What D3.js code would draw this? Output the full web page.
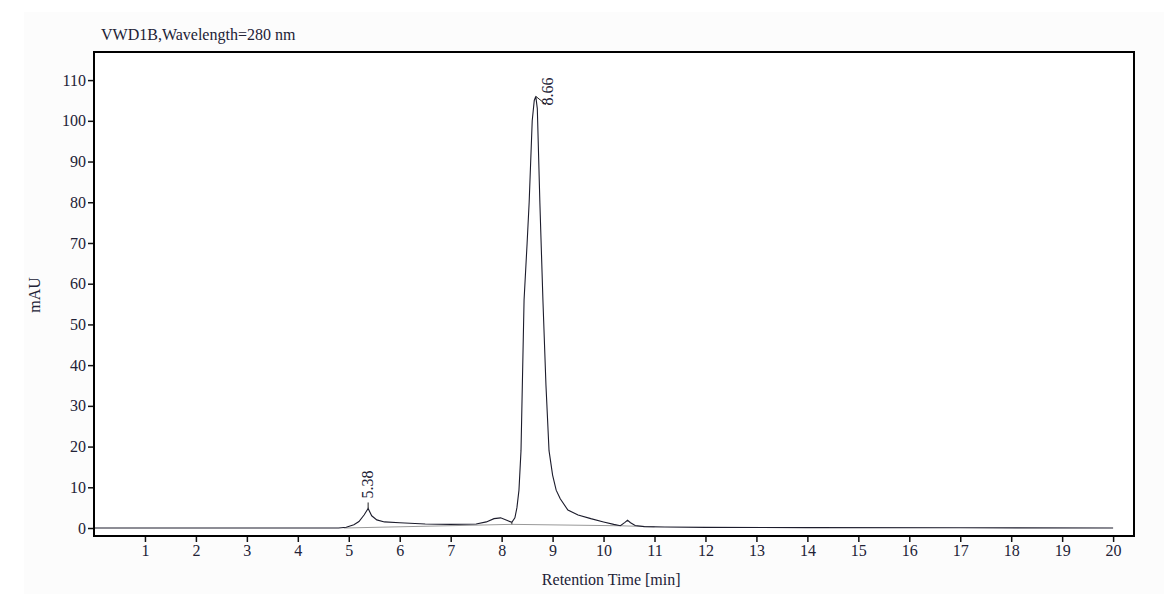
<!DOCTYPE html>
<html><head><meta charset="utf-8">
<script src="https://cdn.jsdelivr.net/npm/d3@7"></script>
<style>
body{margin:0;background:#fff}
text{font-family:"Liberation Serif","DejaVu Serif",serif;fill:#222236}
</style></head>
<body>
<svg id="chart" width="1172" height="608"></svg>
<script>
// trace: retention time (min) and signal (mAU)
const times = [0, 4.8, 4.95, 5.1, 5.2, 5.3, 5.38, 5.45, 5.55, 5.7, 6.0, 6.5, 7.0, 7.5, 7.7, 7.85, 7.98, 8.1, 8.2, 8.26, 8.3, 8.34, 8.38, 8.44, 8.5, 8.54, 8.6, 8.64, 8.67, 8.7, 8.75, 8.81, 8.87, 8.93, 9.0, 9.07, 9.15, 9.3, 9.5, 9.75, 10.0, 10.2, 10.33, 10.42, 10.47, 10.53, 10.62, 10.8, 11.2, 12, 14, 17, 20];
const signal = [0, 0, 0.2, 0.8, 1.6, 3.2, 4.8, 3.0, 2.0, 1.5, 1.3, 1.0, 0.9, 1.0, 1.5, 2.3, 2.5, 1.9, 1.4, 2.5, 5, 9.3, 19, 56, 70, 80, 100, 105, 106, 103, 80, 56, 35, 19, 13, 9.3, 7.2, 4.4, 3.2, 2.3, 1.5, 0.9, 0.55, 1.4, 1.9, 1.3, 0.6, 0.35, 0.25, 0.15, 0.1, 0.05, 0];
// integration baselines
const base1T = [4.9, 8.2], base1Y = [0, 0.9];
const base2T = [8.2, 10.33, 11.0], base2Y = [0.9, 0.55, 0.3];
const peakLabels = ["5.38", "8.66"];
const peakTimes = [5.38, 8.66];
const xTicks = d3.range(1, 21);
const yTicks = d3.range(0, 111, 10);

const margin = {top: 52, right: 38, bottom: 72, left: 94};
const width = 1172 - margin.left - margin.right;
const height = 608 - margin.top - margin.bottom;

const x = d3.scaleLinear().domain([0, 20.41]).range([0, width]);
const y = d3.scaleLinear().domain([-1.96, 116.9]).range([height, 0]);

const svg = d3.select("#chart");
svg.append("rect").attr("x", 24).attr("y", 12).attr("width", 1140).attr("height", 582).attr("fill", "#fcfcfc");
const g = svg.append("g").attr("transform", "translate(" + margin.left + "," + margin.top + ")");
g.append("rect").attr("width", width).attr("height", height).attr("fill", "#fff");

const line = d3.line().x((d, i) => x(d[0])).y(d => y(d[1]));

// baselines
[[base1T, base1Y], [base2T, base2Y]].forEach(function(b){
  g.append("path").datum(b[0].map((t, i) => [t, b[1][i]]))
    .attr("d", line).attr("fill", "none").attr("stroke", "#999").attr("stroke-width", 1);
});
// trace
g.append("path").datum(times.map((t, i) => [t, signal[i]]))
  .attr("d", line).attr("fill", "none").attr("stroke", "#1c1c2c").attr("stroke-width", 1.1);

// drop line at valley
g.append("line").attr("x1", x(8.2)).attr("x2", x(8.2)).attr("y1", y(1.4)).attr("y2", y(0.9))
  .attr("stroke", "#333");

// peak labels
const p1 = [x(5.38), y(4.8)];
g.append("line").attr("x1", p1[0]).attr("x2", p1[0]).attr("y1", p1[1]).attr("y2", p1[1] - 6).attr("stroke", "#222");
g.append("text").attr("transform", "translate(" + (p1[0] + 5) + "," + (p1[1] - 10) + ") rotate(-90)")
  .attr("font-size", 16).text(peakLabels[0]);
const p2 = [x(8.67), y(106)];
g.append("line").attr("x1", p2[0]).attr("x2", p2[0] + 10).attr("y1", p2[1]).attr("y2", p2[1] + 8).attr("stroke", "#222");
g.append("text").attr("transform", "translate(" + (p2[0] + 17) + "," + (p2[1] + 9) + ") rotate(-90)")
  .attr("font-size", 16).text(peakLabels[1]);

// axes
const xAxis = d3.axisBottom(x).tickValues(xTicks).tickSize(6).tickPadding(3).tickFormat(d3.format("d"));
const yAxis = d3.axisLeft(y).tickValues(yTicks).tickSize(6).tickPadding(2).tickFormat(d3.format("d"));
const gx = g.append("g").attr("transform", "translate(0," + height + ")").call(xAxis);
const gy = g.append("g").call(yAxis);
[gx, gy].forEach(function(a){
  a.select(".domain").remove();
  a.selectAll("line").attr("stroke", "#111").attr("stroke-width", 1.5);
  a.selectAll("text").attr("font-size", 16).attr("fill", "#222236").attr("font-family", "Liberation Serif, serif");
});

g.append("rect").attr("width", width).attr("height", height).attr("fill", "none")
  .attr("stroke", "#000").attr("stroke-width", 2);

svg.append("text").attr("x", 101).attr("y", 40).attr("font-size", 16).text("VWD1B,Wavelength=280 nm");
svg.append("text").attr("x", margin.left + x(10.15)).attr("y", 585).attr("text-anchor", "middle")
  .attr("font-size", 16).attr("fill", "#4a3020").text("Retention Time [min]");
svg.append("text").attr("transform", "translate(40,295) rotate(-90)").attr("text-anchor", "middle")
  .attr("font-size", 16).text("mAU");
</script>
</body></html>
